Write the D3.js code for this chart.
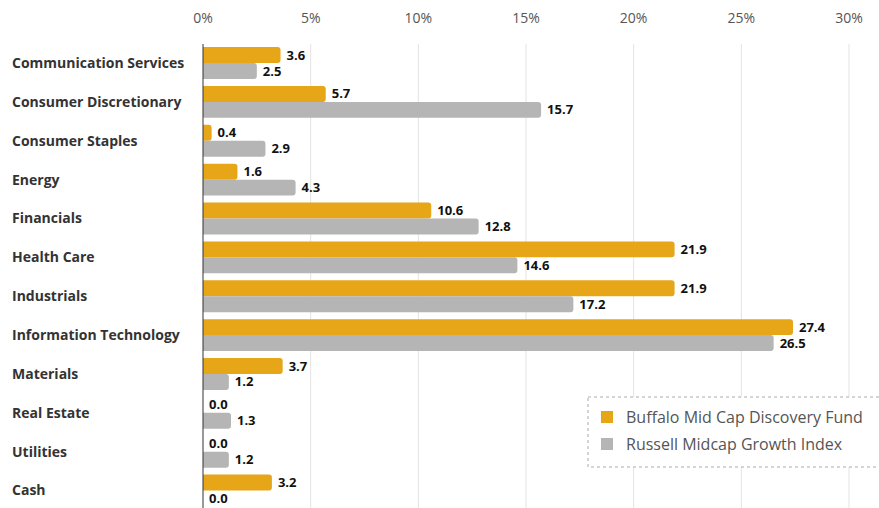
<!DOCTYPE html>
<html>
<head>
<meta charset="utf-8">
<script src="https://cdn.jsdelivr.net/npm/d3@7"></script>
<style>
  body { margin: 0; background: #fff; font-family: "Open Sans", sans-serif; }
</style>
</head>
<body>
<div id="chart"></div>
<script>
// Sector weights (%)
const categories = ["Communication Services", "Consumer Discretionary", "Consumer Staples", "Energy",
  "Financials", "Health Care", "Industrials", "Information Technology", "Materials",
  "Real Estate", "Utilities", "Cash"];
const fundValues = [3.6, 5.7, 0.4, 1.6, 10.6, 21.9, 21.9, 27.4, 3.7, 0.0, 0.0, 3.2];
const indexValues = [2.5, 15.7, 2.9, 4.3, 12.8, 14.6, 17.2, 26.5, 1.2, 1.3, 1.2, 0.0];
const xTicks = [0, 5, 10, 15, 20, 25, 30];
const seriesNames = ["Buffalo Mid Cap Discovery Fund", "Russell Midcap Growth Index"];
const seriesColors = ["#E6A618", "#B5B5B5"];

const W = 879, H = 508;
const margin = { top: 44, right: 30, bottom: 0, left: 203 };

const svg = d3.select("#chart").append("svg")
    .attr("width", W).attr("height", H);

const xScale = d3.scaleLinear()
    .domain([0, 30])
    .range([margin.left, 849]);

const yScale = d3.scaleBand()
    .domain(categories)
    .range([margin.top, margin.top + 12 * 38.8])
    .paddingInner(0.18)
    .paddingOuter(0.08);

const sub = d3.scaleBand()
    .domain([0, 1])
    .range([0, yScale.bandwidth()]);

// gridlines
svg.append("g")
    .selectAll("line")
    .data(xTicks.filter(t => t > 0))
    .enter().append("line")
    .attr("x1", d => xScale(d)).attr("x2", d => xScale(d))
    .attr("y1", margin.top).attr("y2", H)
    .attr("stroke", "#e3e3e3").attr("stroke-width", 1);

// top tick labels
svg.append("g")
    .selectAll("text")
    .data(xTicks)
    .enter().append("text")
    .attr("x", d => xScale(d))
    .attr("y", 23)
    .attr("text-anchor", "middle")
    .style("font-size", "14px")
    .style("fill", "#555")
    .text(d => d + "%");

// bar with rounded right end
function barPath(x0, x1, y, h, r) {
    const rr = Math.min(r, (x1 - x0));
    if (x1 - x0 <= 0) return "";
    return `M${x0},${y}H${x1 - rr}Q${x1},${y} ${x1},${y + rr}V${y + h - rr}Q${x1},${y + h} ${x1 - rr},${y + h}H${x0}Z`;
}

const series = [fundValues, indexValues];
series.forEach((vals, si) => {
    const g = svg.append("g");
    g.selectAll("path")
        .data(categories)
        .enter().append("path")
        .attr("d", (c, i) => barPath(xScale(0), xScale(vals[i]), yScale(c) + sub(si), sub.bandwidth(), 3))
        .attr("fill", seriesColors[si]);

    g.selectAll("text")
        .data(categories)
        .enter().append("text")
        .attr("x", (c, i) => xScale(vals[i]) + 6)
        .attr("y", c => yScale(c) + sub(si) + sub.bandwidth() / 2)
        .attr("dy", "0.35em")
        .style("font-size", "13px")
        .style("font-weight", "bold")
        .style("fill", "#111")
        .text((c, i) => vals[i].toFixed(1));
});

// category labels
svg.append("g")
    .selectAll("text")
    .data(categories)
    .enter().append("text")
    .attr("x", 12)
    .attr("y", c => yScale(c) + yScale.bandwidth() / 2)
    .attr("dy", "0.35em")
    .style("font-size", "14px")
    .style("font-weight", "bold")
    .style("fill", "#333")
    .text(d => d);

// axis line
svg.append("line")
    .attr("x1", xScale(0)).attr("x2", xScale(0))
    .attr("y1", margin.top).attr("y2", H)
    .attr("stroke", "#333").attr("stroke-width", 1);

// legend
const legend = svg.append("g").attr("transform", "translate(588,397)");
legend.append("rect")
    .attr("width", 310).attr("height", 70)
    .attr("fill", "#fff")
    .attr("stroke", "#aaa")
    .attr("stroke-dasharray", "3,3");

seriesNames.forEach((name, i) => {
    legend.append("rect")
        .attr("x", 13).attr("y", 14 + i * 27)
        .attr("width", 12).attr("height", 12)
        .attr("fill", seriesColors[i]);
    legend.append("text")
        .attr("x", 38).attr("y", 20 + i * 27)
        .attr("dy", "0.35em")
        .style("font-size", "16px")
        .style("fill", "#555")
        .text(name);
});
</script>
</body>
</html>
